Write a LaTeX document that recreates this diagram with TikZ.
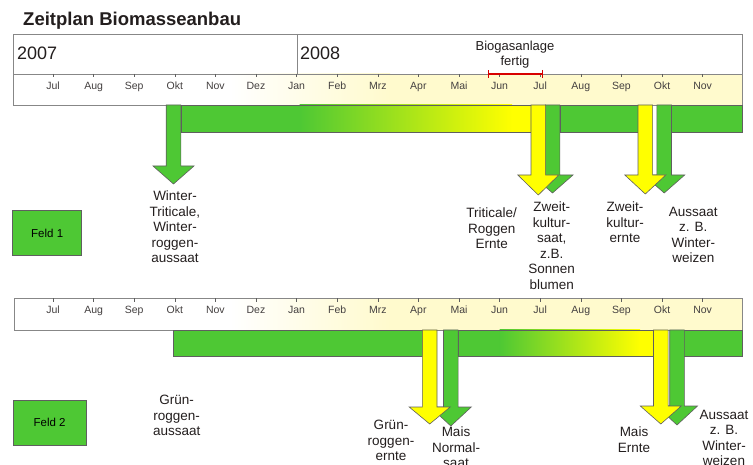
\documentclass[tikz,border=0pt]{standalone}
\usepackage{fontspec}
\setmainfont{Liberation Sans}
\usetikzlibrary{arrows.meta}
\definecolor{gr}{RGB}{78,200,52}
\definecolor{ye}{RGB}{255,255,0}
\definecolor{pale}{RGB}{255,250,205}
\definecolor{txt}{RGB}{35,30,30}
\definecolor{boxline}{RGB}{135,135,135}
\definecolor{outl}{RGB}{95,95,95}
\definecolor{bred}{RGB}{215,0,0}
\newcommand\BlkArrow[5]{\draw[arrowline,fill=#5] (#1-7.3,#2) -- (#1-7.3,#3) -- (#1-20.5,#3) -- (#1,#4) -- (#1+20.5,#3) -- (#1+7.3,#3) -- (#1+7.3,#2) -- cycle;}
\begin{document}
\begin{tikzpicture}[x=1pt,y=-1pt,
  lbl/.style={font=\fontsize{13.5}{15.5}\selectfont, text=txt, align=center, anchor=north, inner sep=0pt},
  mon/.style={font=\fontsize{10.5}{11}\selectfont, text=txt!85, anchor=base, inner sep=0pt},
  arrowline/.style={draw=outl, line width=0.6pt, line join=miter},
  barline/.style={draw=outl, line width=0.6pt},
  frame/.style={draw=boxline, line width=0.9pt},
  feld/.style={draw=outl, fill=gr, line width=0.8pt, font=\fontsize{11.5}{12}\selectfont, text=black, inner sep=0pt},
  year/.style={anchor=base west, font=\fontsize{18}{20}\selectfont, inner sep=0pt, text=txt}]
\useasboundingbox (0,0) rectangle (753,465);

% title
\node[anchor=base west, font=\bfseries\fontsize{18.5}{20}\selectfont, inner sep=0pt, text=txt] (title) at (23,26) {Zeitplan Biomasseanbau};

% ===== top timeline box =====
\fill[white] (13.5,34) rectangle (742.5,74);
\fill[white] (13.5,74) rectangle (230,105);
\shade[left color=white, right color=pale] (229.5,74) rectangle (390,105);
\fill[pale] (389.5,74) rectangle (742.5,105);
\draw[frame] (13.5,34) rectangle (742.5,105);
\draw[frame] (13.5,74) -- (742.5,74);
\draw[frame] (297,34) -- (297,74);
\node[year] (y2007) at (17,59.5) {2007};
\node[year] (y2008) at (300,59.5) {2008};
\foreach \i/\m in {0/Jul,1/Aug,2/Sep,3/Okt,4/Nov,5/Dez,6/Jan,7/Feb,8/Mrz,9/Apr,10/Mai,11/Jun,12/Jul,13/Aug,14/Sep,15/Okt,16/Nov}{
  \draw[outl, line width=0.6pt] (53+40.6*\i,74) -- (53+40.6*\i,77.5);
  \node[mon] (m\i) at (53+40.6*\i,89.8) {\m};
}
\node[font=\fontsize{13}{15}\selectfont, align=center, anchor=north, inner sep=0pt, text=txt] (bio) at (515,40.5) {Biogasanlage\\fertig};
\coordinate (bs) at (488,74);
\coordinate (be) at (543,74);
\draw[bred, line width=2.6pt, {Bar[width=8pt,line width=1pt]}-{Bar[width=8pt,line width=1pt]}] (bs) -- (be);

% ===== top bar (Feld 1) =====
\fill[gr] (181,105) rectangle (300,132);
\shade[left color=gr, right color=ye] (299.5,105) rectangle (512,132);
\fill[ye] (511.5,105) rectangle (531.7,132);
\draw[barline] (181,105) rectangle (531.7,132);
\filldraw[barline, fill=gr] (560,105) rectangle (638,132);
\filldraw[barline, fill=gr] (671.7,105) rectangle (742.5,132);

\BlkArrow{173.5}{105}{166}{184}{gr}
\BlkArrow{552.5}{105}{175}{193}{gr}
\BlkArrow{538.3}{105}{175}{195}{ye}
\BlkArrow{664.2}{105}{175}{193}{gr}
\BlkArrow{645.3}{105}{175}{194}{ye}

\node[lbl] (w1) at (175,191) {Winter-\\Triticale,\\Winter-\\roggen-\\aussaat};
\node[lbl] (tr) at (491.7,208) {Triticale/\\Roggen\\Ernte};
\node[lbl] (zs) at (551.7,202) {Zweit-\\kultur-\\saat,\\z.B.\\Sonnen\\blumen};
\node[lbl] (ze) at (625,202) {Zweit-\\kultur-\\ernte};
\node[lbl] (aw1) at (693.3,207) {Aussaat\\z. B.\\Winter-\\weizen};

\node[feld, minimum width=69pt, minimum height=44.3pt] (f1) at (47.2,232.9) {Feld 1};

% ===== bottom timeline box =====
\fill[white] (14,298.3) rectangle (230,330);
\shade[left color=white, right color=pale] (229.5,298.3) rectangle (390,330);
\fill[pale] (389.5,298.3) rectangle (742.5,330);
\draw[frame] (14,298.3) rectangle (742.5,330);
\foreach \i/\m in {0/Jul,1/Aug,2/Sep,3/Okt,4/Nov,5/Dez,6/Jan,7/Feb,8/Mrz,9/Apr,10/Mai,11/Jun,12/Jul,13/Aug,14/Sep,15/Okt,16/Nov}{
  \draw[outl, line width=0.6pt] (53+40.6*\i,298.3) -- (53+40.6*\i,301.8);
  \node[mon] (n\i) at (53+40.6*\i,314) {\m};
}

% ===== bottom bar (Feld 2) =====
\filldraw[barline, fill=gr] (173.3,330) rectangle (422.7,356.5);
\fill[gr] (458.3,330) rectangle (500,356.5);
\shade[left color=gr, right color=ye] (499.5,330) rectangle (640,356.5);
\fill[ye] (639.5,330) rectangle (653.3,356.5);
\draw[barline] (458.3,330) rectangle (653.3,356.5);
\filldraw[barline, fill=gr] (683.3,330) rectangle (742.5,356.5);

\BlkArrow{450.8}{330}{407}{426}{gr}
\BlkArrow{429.7}{330}{407}{424}{ye}
\BlkArrow{677}{330}{406}{425}{gr}
\BlkArrow{660.8}{330}{406}{424}{ye}

\node[lbl] (ga) at (176.7,395) {Grün-\\roggen-\\aussaat};
\node[lbl] (ge) at (391,420) {Grün-\\roggen-\\ernte};
\node[lbl] (mn) at (456,426.7) {Mais\\Normal-\\saat};
\node[lbl] (me) at (634,426.7) {Mais\\Ernte};
\node[lbl] (aw2) at (724,410) {Aussaat\\z. B.\\Winter-\\weizen};

\node[feld, minimum width=72.7pt, minimum height=45pt] (f2) at (49.65,422.5) {Feld 2};
\end{tikzpicture}
\end{document}
